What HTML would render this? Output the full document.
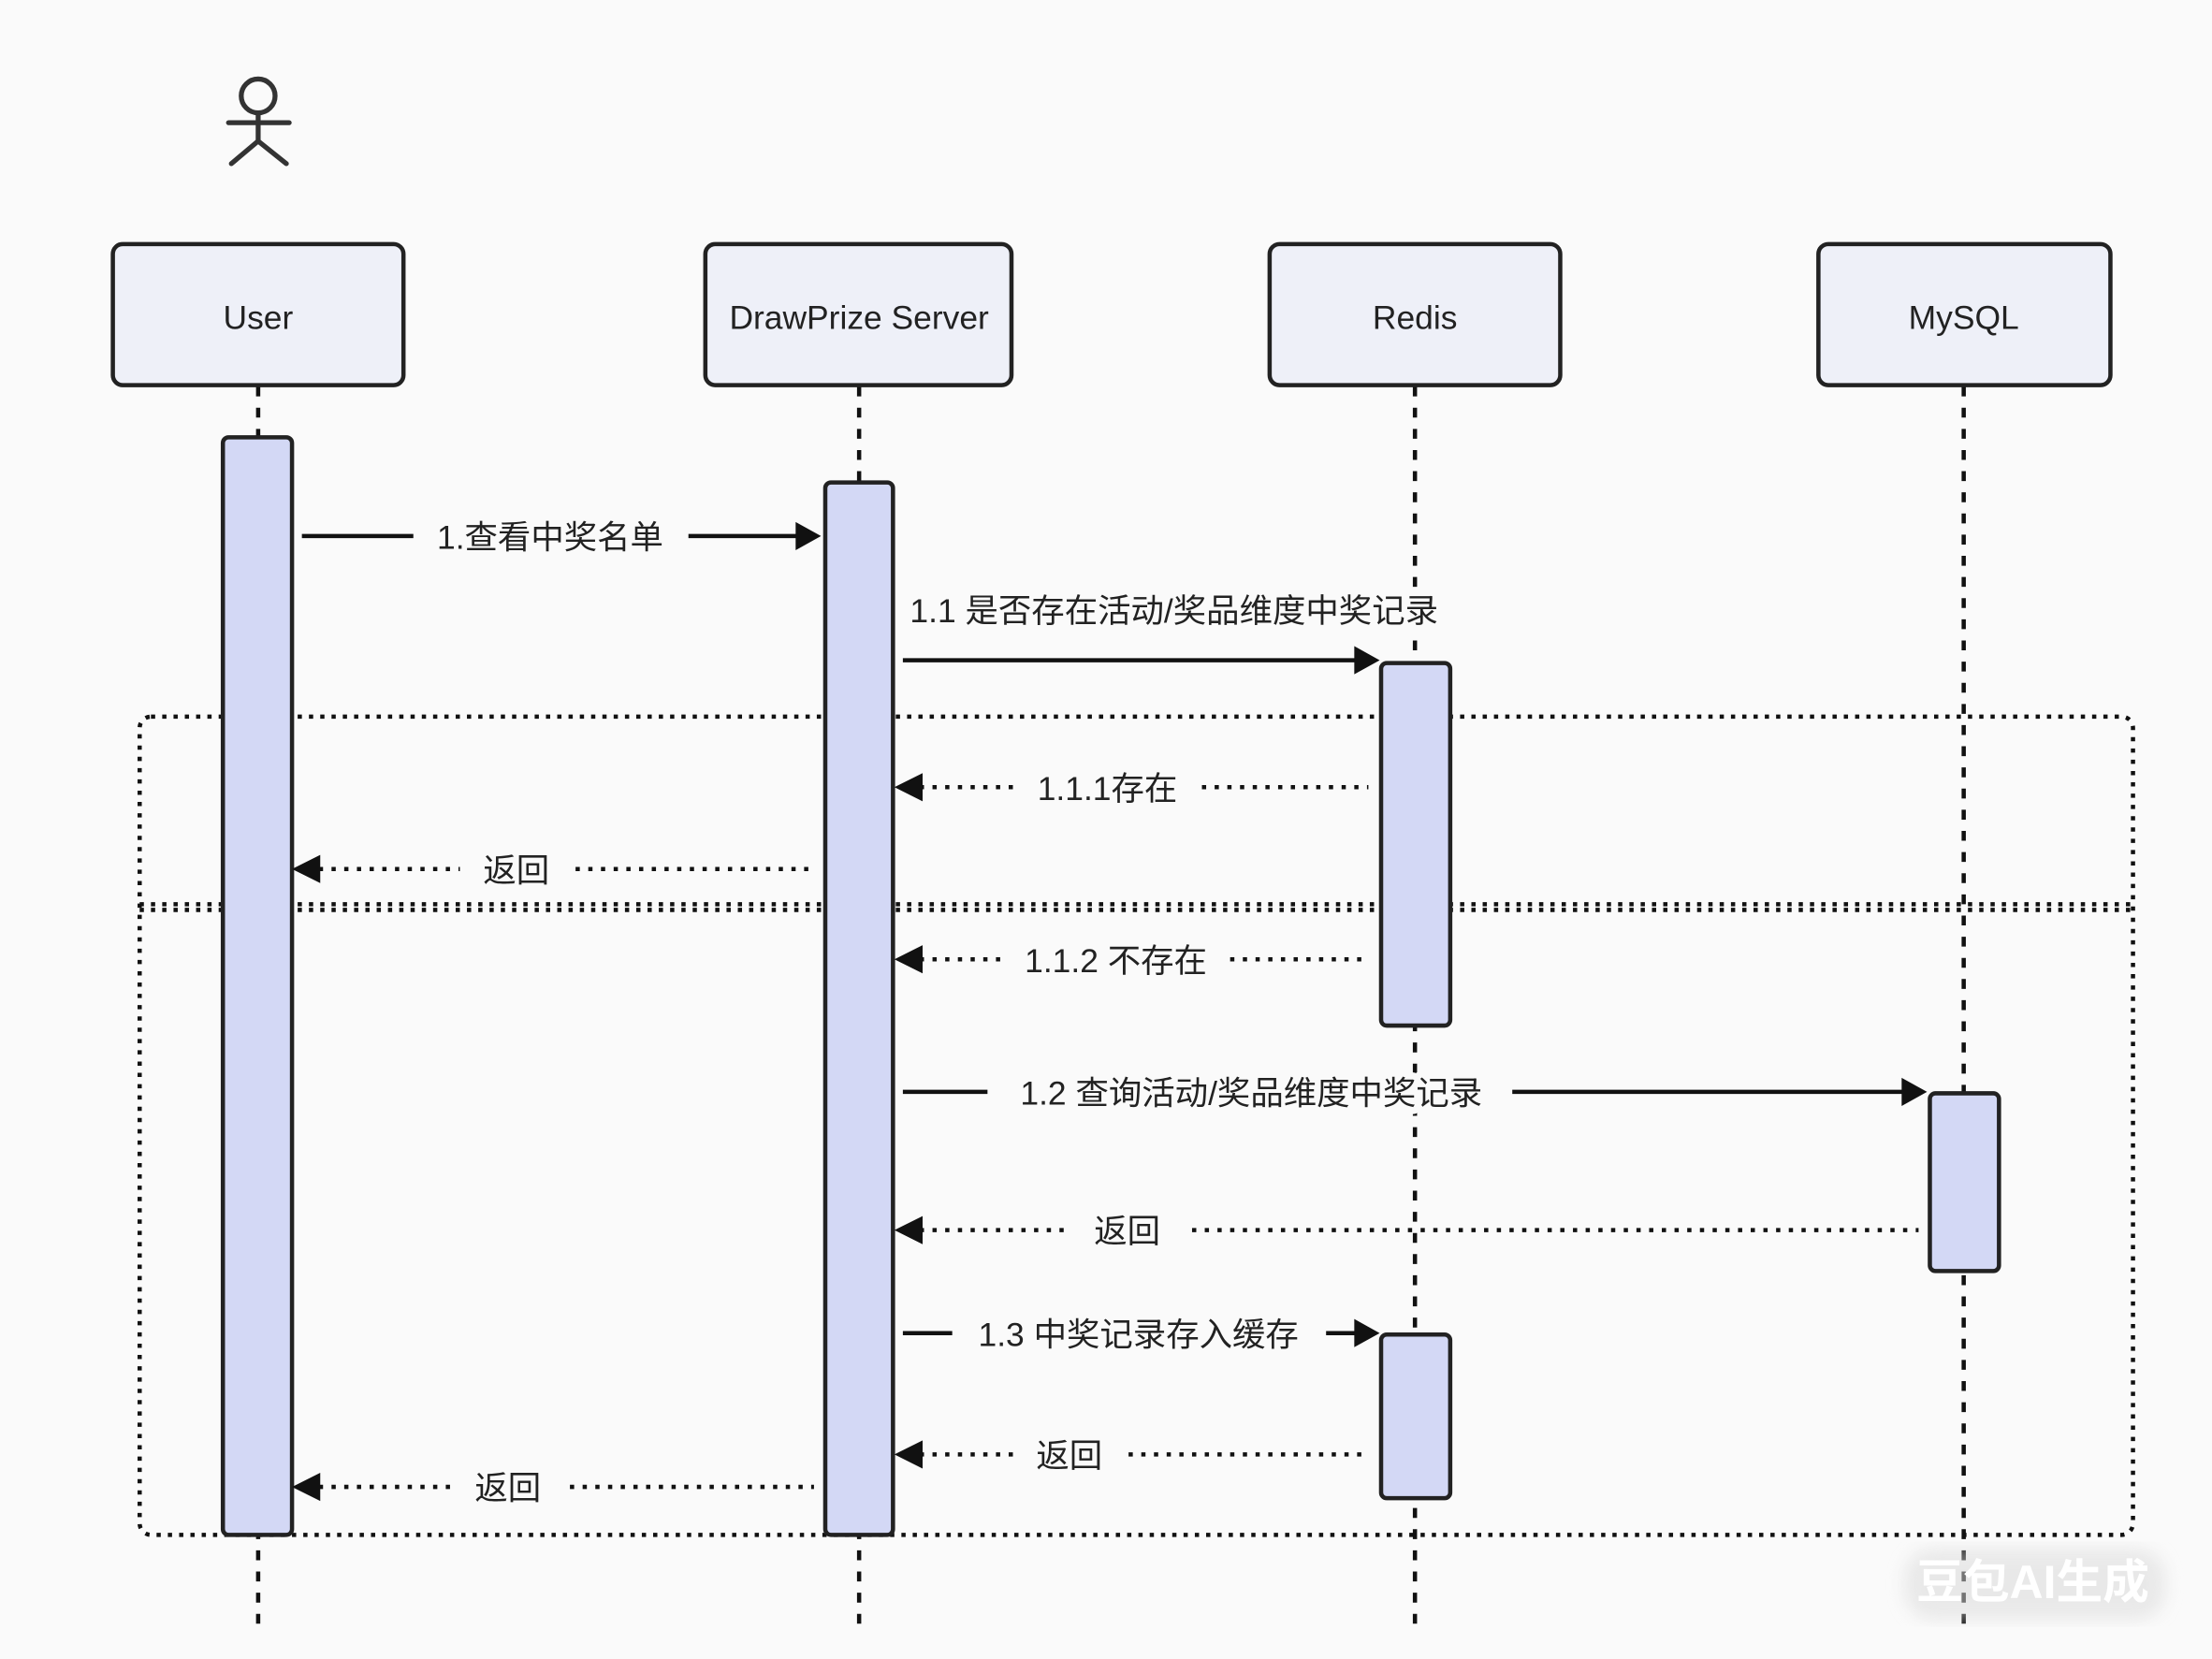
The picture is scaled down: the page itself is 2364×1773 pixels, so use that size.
<!DOCTYPE html>
<html><head><meta charset="utf-8"><style>
html,body{margin:0;padding:0;background:#fafafa;}
svg{display:block;}
text{font-family:"Liberation Sans","Noto Sans CJK SC",sans-serif;font-size:23.5px;fill:#222;stroke:#fafafa;stroke-width:10px;paint-order:stroke;stroke-linejoin:round;}
</style></head><body>
<svg width="2364" height="1773" viewBox="0 0 1568 1176" xmlns="http://www.w3.org/2000/svg">
<defs>
<filter id="sh"><feGaussianBlur stdDeviation="6"/></filter>
</defs>
<rect width="1568" height="1176" fill="#fafafa"/>
<!-- actor -->
<g stroke="#333" stroke-width="3.5" fill="none" stroke-linecap="round">
<circle cx="183" cy="68" r="12"/>
<line x1="183" y1="80" x2="183" y2="100"/>
<line x1="162" y1="87" x2="205" y2="87"/>
<line x1="183" y1="100" x2="164" y2="116"/>
<line x1="183" y1="100" x2="203" y2="116"/>
</g>
<!-- lifelines -->
<g stroke="#111" stroke-width="3" stroke-dasharray="7,8">
<line x1="183" y1="274" x2="183" y2="1155"/>
<line x1="609" y1="274" x2="609" y2="1155"/>
<line x1="1003" y1="274" x2="1003" y2="1155"/>
<line x1="1392" y1="274" x2="1392" y2="1155"/>
</g>
<!-- participant boxes -->
<g fill="#eef0f8" stroke="#222" stroke-width="3">
<rect x="80" y="173" width="206" height="100" rx="7"/>
<rect x="500" y="173" width="217" height="100" rx="7"/>
<rect x="900" y="173" width="206" height="100" rx="7"/>
<rect x="1289" y="173" width="207" height="100" rx="7"/>
</g>
<g text-anchor="middle" style="font-size:25px">
<text x="183" y="233" style="stroke:none">User</text>
<text x="609" y="233" style="stroke:none">DrawPrize Server</text>
<text x="1003" y="233" style="stroke:none">Redis</text>
<text x="1392" y="233" style="stroke:none">MySQL</text>
</g>
<!-- fragments -->
<g fill="none" stroke="#111" stroke-width="3" stroke-dasharray="3,5">
<rect x="99" y="508" width="1413" height="580" rx="8"/>
<line x1="99" y1="641" x2="1512" y2="641"/>
<line x1="99" y1="645" x2="1512" y2="645"/>
</g>
<!-- activations -->
<g fill="#d3d8f5" stroke="#222" stroke-width="3">
<rect x="158" y="310" width="49" height="778" rx="4"/>
<rect x="585" y="342" width="48" height="746" rx="4"/>
<rect x="979" y="470" width="49" height="257" rx="4"/>
<rect x="979" y="946" width="49" height="116" rx="4"/>
<rect x="1368" y="775" width="49" height="126" rx="4"/>
</g>
<!-- solid messages -->
<g stroke="#111" stroke-width="3">
<line x1="214" y1="380" x2="293" y2="380"/><line x1="488" y1="380" x2="566" y2="380"/>
<line x1="640" y1="468" x2="962" y2="468"/>
<line x1="640" y1="774" x2="700" y2="774"/><line x1="1072" y1="774" x2="1350" y2="774"/>
<line x1="640" y1="945" x2="675" y2="945"/><line x1="940" y1="945" x2="962" y2="945"/>
</g>
<!-- dotted messages -->
<g stroke="#111" stroke-width="3" stroke-dasharray="3,6">
<line x1="652" y1="558" x2="718" y2="558"/><line x1="852" y1="558" x2="970" y2="558"/>
<line x1="226" y1="616" x2="326" y2="616"/><line x1="408" y1="616" x2="577" y2="616"/>
<line x1="652" y1="680" x2="712" y2="680"/><line x1="872" y1="680" x2="970" y2="680"/>
<line x1="652" y1="872" x2="760" y2="872"/><line x1="845" y1="872" x2="1360" y2="872"/>
<line x1="652" y1="1031" x2="718" y2="1031"/><line x1="800" y1="1031" x2="970" y2="1031"/>
<line x1="226" y1="1054" x2="322" y2="1054"/><line x1="404" y1="1054" x2="577" y2="1054"/>
</g>
<!-- arrowheads -->
<g fill="#111">
<polygon points="582,380 564,370 564,390"/>
<polygon points="978,468 960,458 960,478"/>
<polygon points="1366,774 1348,764 1348,784"/>
<polygon points="978,945 960,935 960,955"/>
<polygon points="634,558 654,548 654,568"/>
<polygon points="207,616 227,606 227,626"/>
<polygon points="634,680 654,670 654,690"/>
<polygon points="634,872 654,862 654,882"/>
<polygon points="634,1031 654,1021 654,1041"/>
<polygon points="207,1054 227,1044 227,1064"/>
</g>
<!-- labels -->
<g text-anchor="middle">
<text x="390" y="389">1.查看中奖名单</text>
<text x="785" y="567">1.1.1存在</text>
<text x="366" y="625">返回</text>
<text x="791" y="689">1.1.2 不存在</text>
<text x="887" y="783">1.2 查询活动/奖品维度中奖记录</text>
<text x="799" y="881">返回</text>
<text x="807" y="954">1.3 中奖记录存入缓存</text>
<text x="758" y="1040">返回</text>
<text x="360" y="1063">返回</text>
</g>
<text x="645" y="441">1.1 是否存在活动/奖品维度中奖记录</text>
<!-- watermark -->
<rect x="1350" y="1098" width="185" height="50" rx="20" fill="#d8d8d8" opacity="0.5" filter="url(#sh)"/>
<text x="1441" y="1133" text-anchor="middle" style="font-size:33px;font-weight:bold;fill:#fff;stroke:none">豆包AI生成</text>
</svg>
</body></html>
